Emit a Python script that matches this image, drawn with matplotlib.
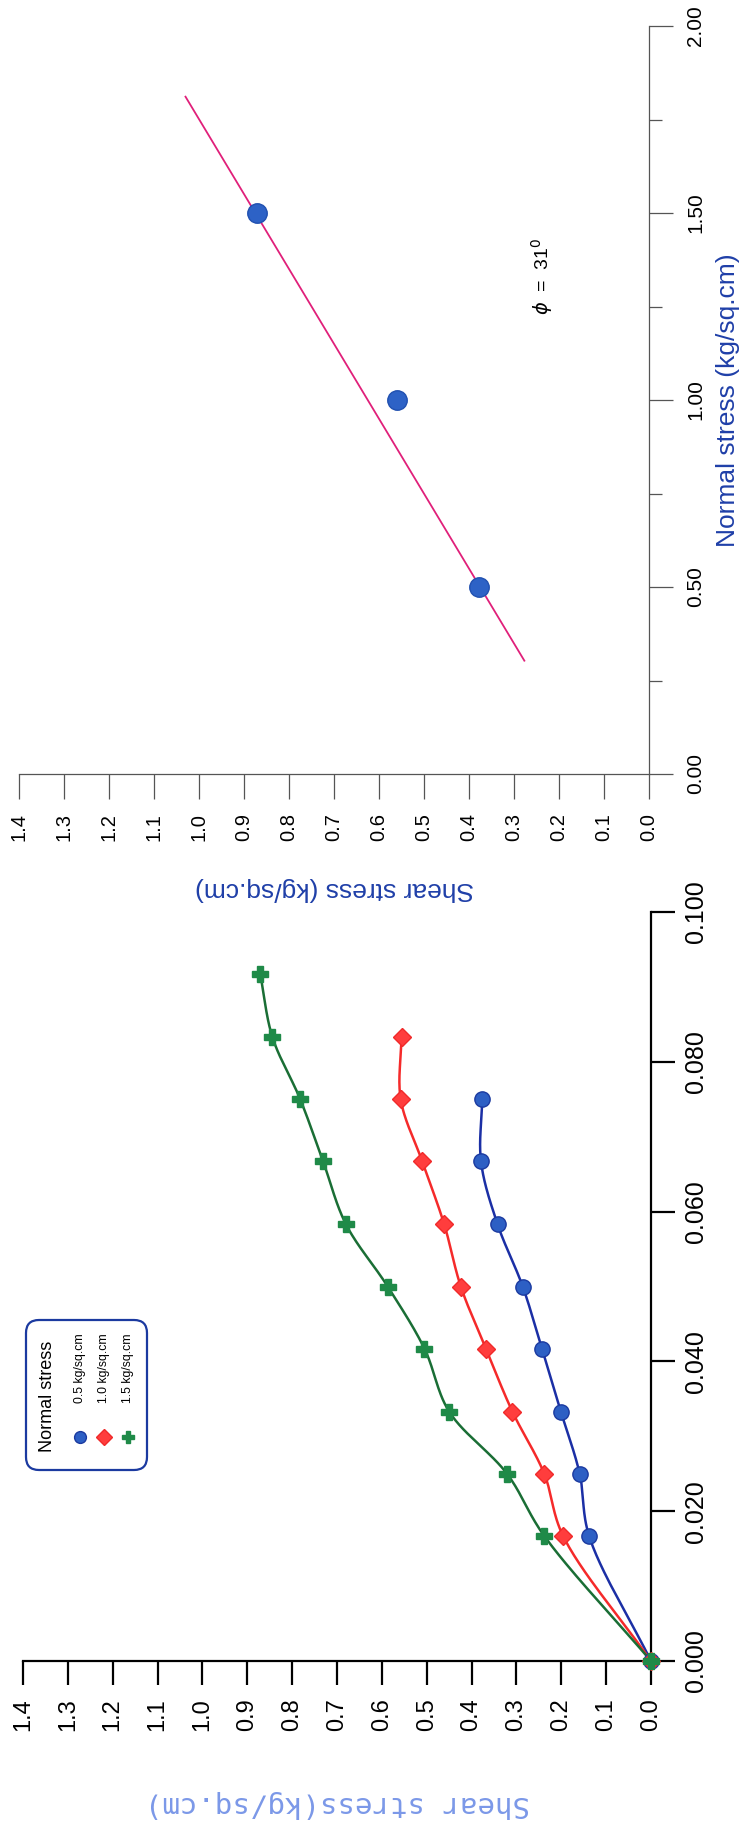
import numpy as np
import matplotlib
matplotlib.use('Agg')
import matplotlib.pyplot as plt
from matplotlib.patches import FancyBboxPatch
from matplotlib.lines import Line2D
from matplotlib.transforms import IdentityTransform

plt.rcParams['font.family'] = ['Liberation Sans', 'DejaVu Sans']

W, H = 745, 1823

# shear box test: displacement (cm) vs shear stress (kg/sq.cm)
disp = [0.0, 0.0167, 0.0250, 0.0333, 0.0417, 0.0500, 0.0583, 0.0667, 0.0750, 0.0833, 0.0917]
shear_05 = [0.0, 0.138, 0.159, 0.201, 0.243, 0.286, 0.342, 0.379, 0.376]
shear_10 = [0.0, 0.196, 0.238, 0.309, 0.368, 0.424, 0.461, 0.510, 0.558, 0.556]
shear_15 = [0.0, 0.238, 0.321, 0.450, 0.505, 0.587, 0.680, 0.731, 0.782, 0.844, 0.871]
legend_labels = ['0.5 kg/sq.cm', '1.0 kg/sq.cm', '1.5 kg/sq.cm']

# failure envelope
normal = [0.5, 1.0, 1.5]
peak_shear = [0.377, 0.560, 0.872]
fit_normal = [0.303, 1.811]
fit_shear = [0.277, 1.030]

shear_ticks = [0.0, 0.1, 0.2, 0.3, 0.4, 0.5, 0.6, 0.7, 0.8, 0.9, 1.0, 1.1, 1.2, 1.3, 1.4]
disp_ticks = [0.0, 0.02, 0.04, 0.06, 0.08, 0.10]
normal_ticks = [0.0, 0.5, 1.0, 1.5, 2.0]
normal_minor = [0.25, 0.75, 1.25, 1.75]


def smooth(xs, ys, sx, sy, n=30):
    # centripetal catmull-rom through the points, done in pixel-like units
    p = np.column_stack([np.asarray(xs) * sx, np.asarray(ys) * sy])
    ext = np.vstack([2 * p[0] - p[1], p, 2 * p[-1] - p[-2]])
    out = []
    for i in range(1, len(ext) - 2):
        p0, p1, p2, p3 = ext[i - 1], ext[i], ext[i + 1], ext[i + 2]
        t0 = 0.0
        t1 = t0 + np.linalg.norm(p1 - p0) ** 0.5 + 1e-9
        t2 = t1 + np.linalg.norm(p2 - p1) ** 0.5 + 1e-9
        t3 = t2 + np.linalg.norm(p3 - p2) ** 0.5 + 1e-9
        t = np.linspace(t1, t2, n)[:, None]
        a1 = (t1 - t) / (t1 - t0) * p0 + (t - t0) / (t1 - t0) * p1
        a2 = (t2 - t) / (t2 - t1) * p1 + (t - t1) / (t2 - t1) * p2
        a3 = (t3 - t) / (t3 - t2) * p2 + (t - t2) / (t3 - t2) * p3
        b1 = (t2 - t) / (t2 - t0) * a1 + (t - t0) / (t2 - t0) * a2
        b2 = (t3 - t) / (t3 - t1) * a2 + (t - t1) / (t3 - t1) * a3
        c = (t2 - t) / (t2 - t1) * b1 + (t - t1) / (t2 - t1) * b2
        out.append(c if i == 1 else c[1:])
    c = np.vstack(out)
    return c[:, 0] / sx, c[:, 1] / sy


fig = plt.figure(figsize=(W / 100, H / 100), dpi=100)

# ---------------- lower chart ----------------
ax1 = fig.add_axes([23 / W, 1 - 1661 / H, (651 - 23) / W, (1661 - 912) / H])
ax1.set_xlim(1.4, 0)
ax1.set_ylim(0, 0.1)
for s in ['top', 'left']:
    ax1.spines[s].set_visible(False)
for s in ['right', 'bottom']:
    ax1.spines[s].set_linewidth(1.6)
    ax1.spines[s].set_color('black')

ax1.set_xticks(shear_ticks)
ax1.set_xticklabels([f'{v:.1f}' for v in shear_ticks], rotation=90, fontsize=17)
ax1.tick_params(axis='x', direction='out', length=17, width=1.6, pad=10)
ax1.yaxis.tick_right()
ax1.set_yticks(disp_ticks)
ax1.set_yticklabels([f'{v:.3f}' for v in disp_ticks], rotation=90, fontsize=18, va='center')
ax1.tick_params(axis='y', direction='out', length=17, width=1.6, pad=7)

series = [
    (shear_05, 'o', '#2d5fc4', '#1b3aa0', '#1b2fa5', 11),
    (shear_10, 'D', '#ff3d3d', '#f02a2a', '#f52a2a', 9),
    (shear_15, 'P', '#1f8a48', '#1f8a48', '#1a6e35', 11),
]
for vals, mk, fc, ec, lc, ms in series:
    d = disp[:len(vals)]
    sx, sy = smooth(vals, d, 448.6, 7490)
    ax1.plot(sx, sy, color=lc, lw=1.8, clip_on=False, zorder=3)
for vals, mk, fc, ec, lc, ms in series:
    d = disp[:len(vals)]
    ax1.plot(vals, d, ls='none', marker=mk, ms=ms, mfc=fc, mec=ec, mew=1,
             clip_on=False, zorder=4)

# legend box, drawn by hand because the page is turned
fig.add_artist(FancyBboxPatch((26, H - 1470), 121, 150,
                              boxstyle='round,pad=0,rounding_size=13',
                              transform=IdentityTransform(), fc='white',
                              ec='#1b3aa0', lw=1.6))
fig.text(48 / W, 1 - 1396 / H, 'Normal stress', rotation=90, ha='center',
         va='center', fontsize=13)
for k, (vals, mk, fc, ec, lc, ms) in enumerate(series):
    x = (80 + 24 * k) / W
    fig.add_artist(Line2D([x], [1 - 1437 / H], marker=mk, ms=8.5, mfc=fc, mec=ec,
                          ls='none', transform=fig.transFigure))
    fig.text(x, 1 - 1403 / H, legend_labels[k], rotation=90, ha='center',
             va='bottom', fontsize=8.8)

fig.text(337 / W, 1 - 1804 / H, 'Shear stress(kg/sq.cm)', rotation=180,
         ha='center', va='center', fontsize=21, color='#7b98e8',
         family='DejaVu Sans Mono')

# ---------------- upper chart ----------------
ax2 = fig.add_axes([19 / W, 1 - 774 / H, (649 - 19) / W, (774 - 26) / H])
ax2.set_xlim(1.4, 0)
ax2.set_ylim(0, 2.0)
for s in ['top', 'left']:
    ax2.spines[s].set_visible(False)
for s in ['right', 'bottom']:
    ax2.spines[s].set_linewidth(0.9)
    ax2.spines[s].set_color('#555555')

ax2.set_xticks(shear_ticks)
ax2.set_xticklabels([f'{v:.1f}' for v in shear_ticks], rotation=90, fontsize=14.5)
ax2.tick_params(axis='x', direction='out', length=18, width=0.9, color='#555555', pad=10)
ax2.yaxis.tick_right()
ax2.set_yticks(normal_ticks)
ax2.set_yticks(normal_minor, minor=True)
ax2.set_yticklabels([f'{v:.2f}' for v in normal_ticks], rotation=90, fontsize=15, va='center')
ax2.tick_params(axis='y', which='major', direction='out', length=17, width=0.9,
                color='#555555', pad=10)
ax2.tick_params(axis='y', which='minor', direction='out', length=9, width=0.9,
                color='#555555')

ax2.plot(fit_shear, fit_normal, color='#e0207a', lw=1.3, zorder=3)
ax2.plot(peak_shear, normal, ls='none', marker='o', ms=14, mfc='#2d62c6',
         mec='#2050b0', mew=1, zorder=4)

fig.text(542 / W, 1 - 276 / H, r'$\phi$  =  31$^0$', rotation=90, ha='center',
         va='center', fontsize=14)
fig.text(334 / W, 1 - 889 / H, 'Shear stress (kg/sq.cm)', rotation=180,
         ha='center', va='center', fontsize=19, color='#1f3fa8')
fig.text(728 / W, 1 - 400 / H, 'Normal stress (kg/sq.cm)', rotation=90,
         ha='center', va='center', fontsize=19, color='#1f3fa8')

fig.savefig('out.png', dpi=100)
